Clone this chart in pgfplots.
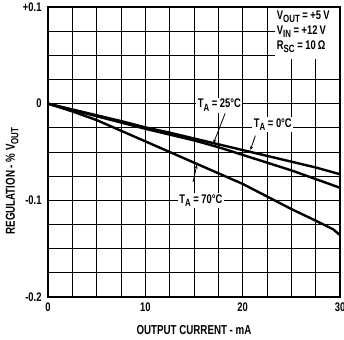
\documentclass[border=0pt]{standalone}
\usepackage{fontspec}
\setmainfont{Liberation Sans}[FakeStretch=0.75]
\usepackage{pgfplots}
\pgfplotsset{compat=1.18}
\usetikzlibrary{arrows.meta}
\newcommand\sub[1]{\raisebox{-0.5ex}{\fontsize{10.5}{11}\selectfont #1}}
\begin{document}
\begin{tikzpicture}
\begin{axis}[
  scale only axis, width=292pt, height=290pt,
  xmin=0, xmax=30, ymin=-0.2, ymax=0.1,
  xtick={0,10,20,30}, xticklabels={0,10,20,30},
  minor xtick={2.5,5,7.5,12.5,15,17.5,22.5,25,27.5},
  ytick={-0.2,-0.1,0,0.1}, yticklabels={{-0.2},{-0.1},0,{+0.1}},
  minor ytick={-0.175,-0.15,-0.125,-0.075,-0.05,-0.025,0.025,0.05,0.075},
  xmajorgrids=true, xminorgrids=true, ymajorgrids=true, yminorgrids=true,
  grid style={black, line width=0.8pt},
  major grid style={black, line width=0.8pt},
  minor grid style={black, line width=0.8pt},
  tick align=inside,
  tick style={black, line width=0.8pt},
  axis line style={line width=1.5pt},
  tick label style={font=\bfseries\fontsize{12.5}{14}\selectfont},
  xticklabel style={yshift=-2pt},
  yticklabel style={xshift=-3pt},
  xlabel={OUTPUT CURRENT - mA},
  ylabel={REGULATION - \% V\sub{OUT}},
  label style={font=\bfseries\fontsize{13}{15}\selectfont},
  x label style={at={(axis description cs:0.5,-0.114)}, anchor=center},
  y label style={at={(axis description cs:-0.123,0.40)}, anchor=center},
  clip=false,
]
% T_A = 0 C
\addplot[black, line width=2.4pt] coordinates {
(0,0) (2.5,-0.006) (5,-0.012) (7.5,-0.018) (10,-0.0245) (12.5,-0.030) (15,-0.036)
(17.5,-0.042) (20,-0.048) (22.5,-0.054) (25,-0.060) (27.5,-0.066) (30,-0.073)};
% T_A = 25 C
\addplot[black, line width=2.4pt] coordinates {
(0,0) (5,-0.013) (10,-0.026) (15,-0.038) (17.5,-0.045) (20,-0.053) (22.5,-0.061)
(25,-0.069) (27.5,-0.078) (30,-0.087)};
% T_A = 70 C
\addplot[black, line width=2.4pt] coordinates {
(0,0) (2.5,-0.008) (5,-0.017) (7.5,-0.028) (10,-0.039) (12.5,-0.050) (15,-0.061)
(17.5,-0.072) (20,-0.083) (22.5,-0.096) (25,-0.109) (27.5,-0.121) (28.5,-0.126)
(29.3,-0.130) (30,-0.136)};
\fill[white] (axis cs:23.3,0.099) rectangle (axis cs:29.9,0.046);
\node[anchor=west, font=\bfseries\fontsize{12.5}{14}\selectfont, align=left, inner sep=0pt]
  at (axis cs:23.5,0.0745) {V\sub{OUT} = +5\,V\\[1pt]V\sub{IN} = +12\,V\\[1pt]R\sub{SC} = 10\,Ω};
\node[fill=white, inner sep=1.5pt, font=\bfseries\fontsize{12.5}{14}\selectfont] at (axis cs:17.6,-0.0015) {T\sub{A} = 25°C};
\node[fill=white, inner sep=1.5pt, font=\bfseries\fontsize{12.5}{14}\selectfont] at (axis cs:23.1,-0.0215) {T\sub{A} = 0°C};
\node[fill=white, inner sep=1.5pt, font=\bfseries\fontsize{12.5}{14}\selectfont] at (axis cs:15.7,-0.1005) {T\sub{A} = 70°C};
\draw[line width=0.8pt, -{Stealth[length=4pt,width=3pt]}] (axis cs:18.2,-0.010) -- (axis cs:17.0,-0.041);
\draw[line width=0.8pt, -{Stealth[length=4pt,width=3pt]}] (axis cs:21.3,-0.033) -- (axis cs:20.8,-0.048);
\draw[line width=0.8pt, -{Stealth[length=4pt,width=3pt]}] (axis cs:14.9,-0.081) -- (axis cs:15.3,-0.063);
\coordinate (sw) at (rel axis cs:0,0);
\coordinate (ne) at (rel axis cs:1,1);
\end{axis}
\pgfresetboundingbox
\path ([shift={(-48pt,-42pt)}]sw) rectangle ([shift={(4pt,7pt)}]ne);
\end{tikzpicture}
\end{document}
